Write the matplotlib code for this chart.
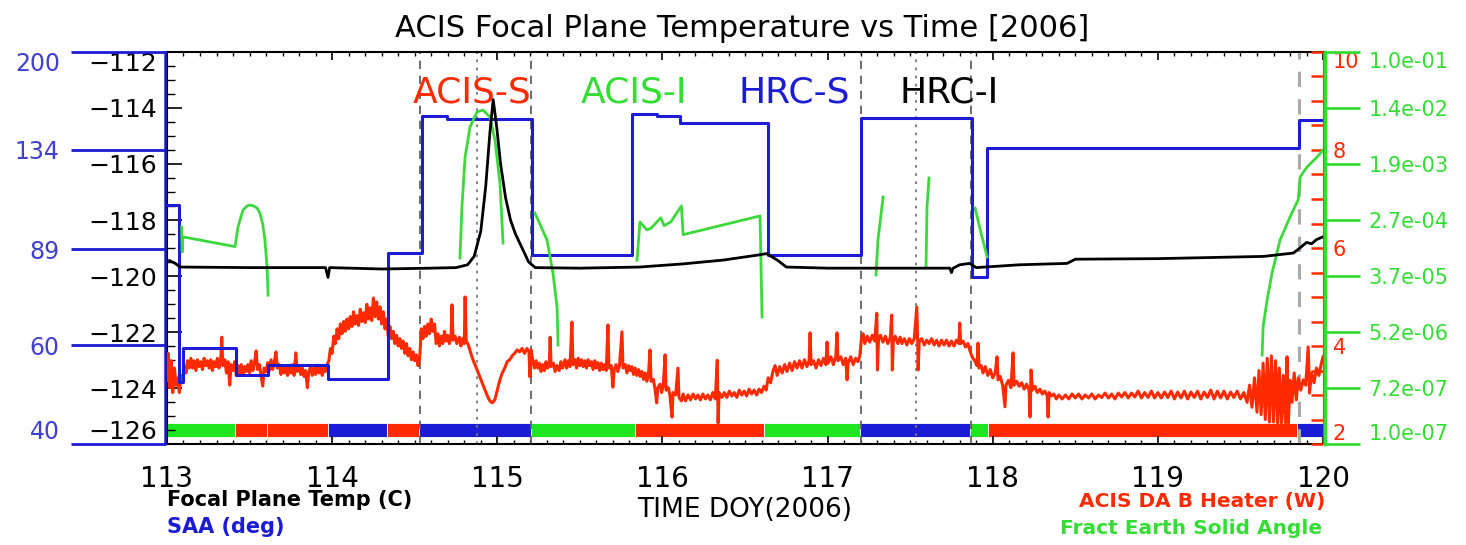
import numpy as np
import matplotlib.pyplot as plt
from matplotlib.ticker import FixedLocator, MultipleLocator, NullLocator

plt.rcParams['font.family'] = 'DejaVu Sans'

RED = '#ff2a00'
BLUE = '#1c1cd6'
GREEN = '#3cd83c'

# --- datos ---
# temperatura del plano focal (C)
temp_day = [113.015, 113.05, 113.08, 113.5, 113.96, 113.975, 113.985, 114.3, 114.6, 114.75,
            114.82, 114.86, 114.9, 114.93, 114.955, 114.975, 114.995, 115.02, 115.05, 115.08,
            115.11, 115.15, 115.19, 115.23, 115.5, 115.86, 116.12, 116.37, 116.58, 116.63,
            116.7, 116.75, 117.0, 117.5, 117.74, 117.75, 117.76, 117.8, 117.86, 117.9,
            118.16, 118.45, 118.5, 119.0, 119.64, 119.82, 119.86, 119.9, 119.93, 119.96, 120.0]
temp_c = [-119.45, -119.55, -119.68, -119.70, -119.70, -120.05, -119.70, -119.75, -119.72, -119.70,
          -119.60, -119.30, -118.40, -116.80, -114.90, -113.70, -114.60, -116.00, -117.20, -118.00,
          -118.50, -119.00, -119.50, -119.70, -119.72, -119.68, -119.57, -119.43, -119.25, -119.20,
          -119.45, -119.68, -119.72, -119.72, -119.72, -119.88, -119.72, -119.60, -119.55, -119.70,
          -119.60, -119.55, -119.40, -119.38, -119.30, -119.18, -119.00, -118.80, -118.85, -118.70, -118.60]

# SAA (deg), escalones
saa_day = [113.000, 113.073, 113.097, 113.418, 113.612, 113.975, 114.338, 114.544, 114.696, 115.210,
           115.816, 115.967, 116.106, 116.639, 117.202, 117.875, 117.966, 119.855, 120.000]
saa_deg = [106.7, 51.6, 59.3, 53.1, 55.3, 52.2, 87.6, 153.8, 151.9, 86.9,
           155.0, 153.8, 149.4, 86.9, 152.6, 79.4, 134.8, 151.3, 151.3]

# ACIS DA B heater (W)
heater = [
    (113.000, 3.30), (113.008, 3.85), (113.015, 3.15), (113.025, 3.70), (113.035, 3.05), (113.045, 3.55),
    (113.055, 3.20), (113.065, 3.35), (113.075, 3.05), (113.085, 3.40), (113.095, 3.25), (113.105, 3.60),
    (113.115, 3.45), (113.125, 3.70), (113.135, 3.55), (113.145, 3.75), (113.155, 3.55), (113.165, 3.70),
    (113.175, 3.50), (113.185, 3.72), (113.195, 3.58), (113.205, 3.68), (113.215, 3.52), (113.225, 3.75),
    (113.235, 3.60), (113.245, 3.70), (113.255, 3.55), (113.265, 3.72), (113.275, 3.50), (113.285, 3.68),
    (113.295, 3.58), (113.305, 3.75), (113.315, 3.55), (113.325, 3.70), (113.332, 4.18), (113.338, 3.60),
    (113.350, 3.72), (113.360, 3.45), (113.370, 3.68), (113.380, 3.20), (113.388, 3.62), (113.400, 3.50),
    (113.410, 3.68), (113.420, 3.40), (113.430, 3.60), (113.440, 3.45), (113.450, 3.62), (113.460, 3.42),
    (113.470, 3.58), (113.480, 3.48), (113.490, 3.62), (113.500, 3.45), (113.510, 3.70), (113.520, 3.50),
    (113.530, 3.66), (113.540, 3.90), (113.548, 3.52), (113.560, 3.62), (113.570, 3.40), (113.580, 3.18),
    (113.588, 3.55), (113.600, 3.48), (113.610, 3.66), (113.620, 3.50), (113.630, 3.72), (113.640, 3.52),
    (113.650, 3.68), (113.660, 3.88), (113.668, 3.55), (113.680, 3.62), (113.690, 3.42), (113.700, 3.58),
    (113.710, 3.45), (113.720, 3.60), (113.730, 3.40), (113.740, 3.55), (113.750, 3.45), (113.760, 3.62),
    (113.770, 3.40), (113.780, 3.86), (113.788, 3.48), (113.800, 3.58), (113.810, 3.42), (113.820, 3.55),
    (113.830, 3.38), (113.840, 3.50), (113.850, 3.15), (113.858, 3.45), (113.870, 3.58), (113.880, 3.40),
    (113.890, 3.55), (113.900, 3.42), (113.910, 3.60), (113.920, 3.45), (113.930, 3.58), (113.940, 3.40),
    (113.950, 3.55), (113.960, 3.48), (113.970, 3.62), (113.980, 3.70), (113.990, 3.95), (114.000, 3.85),
    (114.010, 4.20), (114.020, 4.05), (114.030, 4.35), (114.040, 4.15), (114.050, 4.45), (114.060, 4.25),
    (114.070, 4.50), (114.080, 4.30), (114.090, 4.55), (114.100, 4.35), (114.110, 4.60), (114.120, 4.40),
    (114.130, 4.70), (114.140, 4.45), (114.150, 4.62), (114.160, 4.42), (114.170, 4.75), (114.180, 4.50),
    (114.190, 4.68), (114.200, 4.48), (114.210, 4.85), (114.220, 4.55), (114.230, 4.78), (114.240, 4.52),
    (114.250, 4.98), (114.260, 4.60), (114.270, 4.90), (114.280, 4.55), (114.290, 4.80), (114.300, 4.45),
    (114.310, 4.70), (114.320, 4.35), (114.330, 4.55), (114.340, 4.20), (114.350, 4.40), (114.360, 4.15),
    (114.370, 4.30), (114.380, 4.05), (114.390, 4.22), (114.400, 4.00), (114.410, 4.15), (114.420, 3.95),
    (114.430, 4.10), (114.440, 3.85), (114.450, 4.05), (114.460, 3.80), (114.470, 3.95), (114.480, 3.72),
    (114.490, 3.88), (114.500, 3.70), (114.510, 3.82), (114.520, 3.60), (114.530, 3.75), (114.540, 4.35),
    (114.550, 4.15), (114.560, 4.40), (114.570, 4.20), (114.580, 4.45), (114.590, 4.25), (114.600, 4.55),
    (114.610, 4.30), (114.620, 4.45), (114.630, 4.05), (114.640, 4.25), (114.650, 4.00), (114.660, 4.20),
    (114.670, 4.05), (114.680, 4.30), (114.690, 4.10), (114.700, 4.22), (114.710, 4.05), (114.720, 4.20),
    (114.726, 4.84), (114.732, 4.12), (114.745, 4.20), (114.755, 4.05), (114.770, 4.18), (114.780, 4.00),
    (114.790, 4.15), (114.800, 4.05), (114.805, 5.00), (114.812, 4.10), (114.825, 4.02), (114.840, 3.85),
    (114.855, 3.70), (114.870, 3.58), (114.885, 3.45), (114.900, 3.32), (114.920, 3.15), (114.940, 2.98),
    (114.955, 2.88), (114.970, 2.84), (114.985, 2.90), (115.000, 3.10), (115.015, 3.30), (115.030, 3.45),
    (115.045, 3.55), (115.060, 3.68), (115.075, 3.72), (115.090, 3.80), (115.105, 3.85), (115.120, 3.92),
    (115.135, 3.88), (115.150, 3.95), (115.165, 3.85), (115.180, 3.95), (115.192, 3.88), (115.198, 3.37),
    (115.205, 3.92), (115.215, 3.70), (115.225, 3.55), (115.235, 3.70), (115.245, 3.55), (115.255, 3.65),
    (115.265, 3.48), (115.275, 3.62), (115.285, 3.50), (115.295, 3.68), (115.305, 3.55), (115.315, 3.62),
    (115.320, 4.18), (115.326, 3.58), (115.340, 3.65), (115.350, 3.48), (115.362, 3.60), (115.375, 3.50),
    (115.385, 3.68), (115.395, 3.55), (115.410, 3.72), (115.420, 3.55), (115.430, 3.70), (115.440, 3.58),
    (115.452, 4.49), (115.458, 3.62), (115.470, 3.72), (115.480, 3.55), (115.490, 3.75), (115.500, 3.60),
    (115.510, 3.72), (115.520, 3.58), (115.530, 3.70), (115.540, 3.55), (115.550, 3.72), (115.560, 3.60),
    (115.570, 3.68), (115.580, 3.52), (115.590, 3.70), (115.600, 3.55), (115.610, 3.66), (115.620, 3.50),
    (115.630, 3.65), (115.640, 3.52), (115.650, 3.62), (115.660, 3.50), (115.670, 4.43), (115.676, 3.55),
    (115.690, 3.60), (115.700, 3.16), (115.708, 3.52), (115.720, 3.62), (115.730, 3.48), (115.740, 3.60),
    (115.755, 4.29), (115.761, 3.55), (115.775, 3.62), (115.785, 3.45), (115.795, 3.60), (115.805, 3.50),
    (115.815, 3.58), (115.825, 3.42), (115.835, 3.55), (115.845, 3.40), (115.855, 3.52), (115.865, 3.38),
    (115.875, 3.48), (115.885, 3.32), (115.895, 3.45), (115.905, 3.28), (115.915, 3.40), (115.925, 3.92),
    (115.931, 3.28), (115.945, 3.32), (115.955, 3.12), (115.965, 2.84), (115.972, 3.15), (115.985, 3.22),
    (115.995, 3.05), (116.005, 3.20), (116.016, 3.82), (116.022, 3.10), (116.035, 3.15), (116.045, 3.00),
    (116.058, 2.55), (116.064, 3.05), (116.080, 3.00), (116.094, 3.55), (116.100, 2.95), (116.115, 2.88),
    (116.125, 3.02), (116.140, 2.88), (116.155, 3.00), (116.170, 2.90), (116.185, 3.02), (116.200, 2.92),
    (116.215, 3.00), (116.230, 2.90), (116.245, 3.02), (116.260, 2.92), (116.275, 3.00), (116.290, 2.90),
    (116.305, 3.05), (116.320, 2.92), (116.332, 3.71), (116.337, 2.43), (116.343, 3.05), (116.360, 2.95),
    (116.375, 3.05), (116.390, 2.95), (116.405, 3.08), (116.420, 2.98), (116.435, 3.05), (116.450, 2.95),
    (116.465, 3.10), (116.480, 3.00), (116.495, 3.08), (116.510, 2.98), (116.525, 3.12), (116.540, 3.02),
    (116.555, 3.10), (116.570, 3.00), (116.585, 3.12), (116.600, 3.05), (116.615, 3.18), (116.628, 3.10),
    (116.640, 3.35), (116.655, 3.25), (116.670, 3.50), (116.682, 3.60), (116.695, 3.40), (116.710, 3.58),
    (116.725, 3.45), (116.740, 3.62), (116.754, 3.48), (116.770, 3.65), (116.785, 3.50), (116.800, 3.68),
    (116.815, 3.55), (116.830, 3.70), (116.845, 3.55), (116.860, 3.72), (116.875, 3.58), (116.888, 3.70),
    (116.894, 4.27), (116.900, 3.62), (116.915, 3.70), (116.930, 3.55), (116.945, 3.72), (116.960, 3.60),
    (116.975, 3.75), (116.990, 3.62), (116.997, 4.08), (117.003, 3.65), (117.020, 3.78), (117.035, 3.62),
    (117.050, 3.80), (117.057, 4.27), (117.063, 3.70), (117.080, 3.78), (117.095, 3.62), (117.110, 3.75),
    (117.118, 3.31), (117.124, 3.65), (117.140, 3.78), (117.155, 3.62), (117.170, 3.75), (117.184, 3.68),
    (117.195, 3.80), (117.205, 4.15), (117.215, 4.25), (117.225, 4.05), (117.240, 4.20), (117.255, 4.08),
    (117.270, 4.22), (117.285, 4.10), (117.298, 4.67), (117.302, 3.51), (117.308, 4.12), (117.320, 4.22),
    (117.335, 4.08), (117.350, 4.20), (117.365, 4.05), (117.380, 4.18), (117.388, 4.63), (117.392, 3.51),
    (117.398, 4.10), (117.410, 4.20), (117.425, 4.05), (117.439, 4.18), (117.450, 4.05), (117.465, 4.15),
    (117.480, 4.02), (117.495, 4.15), (117.510, 4.05), (117.525, 4.15), (117.540, 4.80), (117.546, 4.02),
    (117.548, 3.51), (117.555, 4.10), (117.570, 4.15), (117.585, 4.02), (117.600, 4.12), (117.615, 4.05),
    (117.630, 4.15), (117.645, 4.02), (117.660, 4.12), (117.675, 4.00), (117.690, 4.12), (117.705, 4.02),
    (117.720, 4.12), (117.735, 4.00), (117.750, 4.10), (117.765, 4.00), (117.780, 4.12), (117.795, 4.05),
    (117.800, 4.47), (117.806, 4.05), (117.820, 4.10), (117.835, 3.98), (117.850, 4.05), (117.862, 3.90),
    (117.875, 3.78), (117.890, 3.70), (117.905, 3.60), (117.911, 4.06), (117.917, 3.55), (117.930, 3.60),
    (117.941, 3.45), (117.955, 3.58), (117.970, 3.40), (117.985, 3.52), (118.000, 3.35), (118.015, 3.45),
    (118.026, 3.78), (118.032, 3.31), (118.045, 3.38), (118.060, 3.20), (118.074, 2.76), (118.080, 3.20),
    (118.095, 3.30), (118.110, 3.15), (118.123, 3.86), (118.129, 3.20), (118.145, 3.28), (118.160, 3.18),
    (118.175, 3.25), (118.190, 3.12), (118.205, 3.22), (118.220, 3.10), (118.226, 2.55), (118.232, 3.51),
    (118.240, 3.10), (118.255, 3.18), (118.270, 3.05), (118.286, 3.12), (118.300, 3.02), (118.315, 3.08),
    (118.330, 2.98), (118.335, 2.55), (118.341, 3.05), (118.355, 2.98), (118.370, 3.02), (118.385, 2.92),
    (118.400, 3.00), (118.420, 2.92), (118.440, 3.00), (118.460, 2.92), (118.480, 3.02), (118.500, 2.94),
    (118.520, 3.02), (118.540, 2.92), (118.560, 3.00), (118.580, 2.94), (118.600, 3.02), (118.620, 2.92),
    (118.640, 3.00), (118.660, 2.95), (118.680, 3.04), (118.700, 2.94), (118.720, 3.02), (118.740, 2.92),
    (118.760, 3.04), (118.780, 2.96), (118.800, 3.05), (118.820, 2.94), (118.840, 3.04), (118.860, 2.96),
    (118.880, 3.08), (118.900, 2.94), (118.920, 3.05), (118.940, 2.95), (118.960, 3.08), (118.980, 2.94),
    (119.000, 3.05), (119.020, 2.94), (119.040, 3.06), (119.060, 2.95), (119.080, 3.08), (119.100, 2.92),
    (119.120, 3.06), (119.140, 2.94), (119.160, 3.08), (119.180, 2.92), (119.200, 3.06), (119.220, 2.95),
    (119.240, 3.08), (119.260, 2.92), (119.280, 3.06), (119.300, 2.95), (119.320, 3.10), (119.340, 2.92),
    (119.360, 3.08), (119.380, 2.94), (119.400, 3.08), (119.420, 2.92), (119.440, 3.06), (119.460, 2.95),
    (119.480, 3.08), (119.500, 2.92), (119.520, 3.05), (119.540, 2.85), (119.555, 3.20), (119.570, 2.75),
    (119.585, 3.35), (119.600, 2.65), (119.612, 3.50), (119.625, 2.60), (119.637, 3.65), (119.650, 2.50),
    (119.662, 3.75), (119.675, 2.45), (119.687, 3.80), (119.700, 2.45), (119.712, 3.70), (119.725, 2.43),
    (119.735, 3.55), (119.748, 2.43), (119.760, 3.40), (119.772, 2.43), (119.782, 3.78), (119.790, 2.43),
    (119.800, 3.30), (119.812, 2.85), (119.825, 3.45), (119.838, 2.90), (119.850, 3.35), (119.865, 3.10),
    (119.880, 3.31), (119.895, 3.20), (119.910, 3.98), (119.918, 3.04), (119.930, 3.45), (119.945, 3.25),
    (119.960, 3.55), (119.975, 3.40), (119.990, 3.65), (120.000, 3.78),
]
heater_day, heater_w = zip(*heater)

# fraccion del angulo solido de la Tierra (tramos separados por nan)
nan = float('nan')
earth_day = [113.088, 113.092, 113.097, 113.412, 113.430, 113.460, 113.485, 113.503, 113.525, 113.545,
             113.563, 113.580, 113.593, 113.606, 113.612, nan,
             114.774, 114.786, 114.805, 114.835, 114.877, 114.914, 114.956, 114.986, 115.016, 115.035, nan,
             115.228, 115.301, 115.337, 115.362, 115.368, nan,
             115.846, 115.864, 115.905, 115.930, 115.990, 116.010, 116.050, 116.115, 116.125, 116.591, 116.603, nan,
             117.293, 117.305, 117.336, nan,
             117.596, 117.602, 117.614, nan,
             117.893, 117.929, 117.966, nan,
             119.631, 119.637, 119.661, 119.691, 119.740, 119.800, 119.849, 119.861, 119.903, 119.964, 120.000]
earth_frac = [2.09e-4, 8.7e-5, 1.48e-4, 1.05e-4, 2.1e-4, 3.8e-4, 4.4e-4, 4.55e-4, 4.4e-4, 4.1e-4,
              3.4e-4, 2.3e-4, 1.33e-4, 5.1e-5, 1.9e-5, nan,
              7.0e-5, 4.25e-4, 2.47e-3, 7.1e-3, 1.21e-2, 1.29e-2, 1.01e-2, 4.5e-3, 9.9e-4, 1.19e-4, nan,
              3.44e-4, 1.33e-4, 4.15e-5, 1.25e-5, 3.27e-6, nan,
              6.5e-5, 2.5e-4, 1.9e-4, 2.0e-4, 2.9e-4, 2.2e-4, 2.5e-4, 4.4e-4, 1.6e-4, 3.1e-4, 8.8e-6, nan,
              3.86e-5, 1.33e-4, 6.04e-4, nan,
              5.1e-5, 4.25e-4, 1.18e-3, nan,
              4.09e-4, 1.70e-4, 7.3e-5, nan,
              2.30e-6, 6.18e-6, 1.60e-5, 4.14e-5, 1.33e-4, 2.99e-4, 5.43e-4, 1.22e-3, 1.74e-3, 2.47e-3, 3.16e-3]

# barra de instrumento (abajo)
mode_start = [113.0, 113.41, 113.605, 113.975, 114.33, 114.526, 115.204, 115.834, 116.615, 117.196, 117.862, 117.97, 119.843]
mode_end = [113.41, 113.605, 113.975, 114.33, 114.526, 115.204, 115.834, 116.615, 117.196, 117.862, 117.97, 119.843, 120.0]
mode_color = ['#1ee61e', RED, RED, BLUE, RED, BLUE, '#1ee61e', RED, '#1ee61e', BLUE, '#1ee61e', RED, BLUE]

dashed_days = [114.532, 115.204, 117.202, 117.869]
dashed_light = [119.855]
dotted_days = [114.877, 117.535]

instr_names = ['ACIS-S', 'ACIS-I', 'HRC-S', 'HRC-I']
instr_day = [114.847, 115.828, 116.797, 117.735]
instr_color = [RED, '#33dd33', BLUE, 'black']

temp_ticks = [-126, -124, -122, -120, -118, -116, -114, -112]
heater_ticks = [2, 4, 6, 8, 10]
saa_ticks = [40, 60, 89, 134, 200]
earth_labels = ['1.0e-07', '7.2e-07', '5.2e-06', '3.7e-05', '2.7e-04', '1.9e-03', '1.4e-02', '1.0e-01']
earth_ticks = [float(s) for s in earth_labels]

# --- figura ---
fig = plt.figure(figsize=(14.66, 5.45), dpi=100)
ax = fig.add_axes([0.1139, 0.1853, 0.7886, 0.7193])
ax.set_xlim(113, 120)
ax.set_ylim(-126, -112)

ax.broken_barh([(s, e - s) for s, e in zip(mode_start, mode_end)], (-125.75, 0.5),
               facecolors=mode_color, edgecolor='white', linewidth=0.6)
for d in dashed_days:
    ax.axvline(d, color='#555555', ls=(0, (5, 4)), lw=1.2)
for d in dashed_light:
    ax.axvline(d, color='#aaaaaa', ls=(0, (5, 4)), lw=2.2)
for d in dotted_days:
    ax.axvline(d, color='#777777', ls=(0, (1.5, 3)), lw=1.3)

for name, d, c in zip(instr_names, instr_day, instr_color):
    ax.text(d, -113.43, name, color=c, fontsize=26, ha='center', va='center')

ax.xaxis.set_major_locator(MultipleLocator(1))
ax.xaxis.set_minor_locator(MultipleLocator(0.1))
ax.yaxis.set_major_locator(FixedLocator(temp_ticks))
ax.yaxis.set_minor_locator(MultipleLocator(0.5))
ax.tick_params(axis='x', which='both', direction='in', top=True, bottom=True, labelsize=20, pad=15)
ax.tick_params(axis='x', which='major', length=6, width=1.2)
ax.tick_params(axis='x', which='minor', length=2.8, width=1)
ax.tick_params(axis='y', which='both', direction='in', left=True, right=False, labelsize=18, pad=7)
ax.tick_params(axis='y', which='major', length=10.8, width=1.2)
ax.tick_params(axis='y', which='minor', length=5.8, width=1)
ax.spines['right'].set_visible(False)
for s in ['left', 'top', 'bottom']:
    ax.spines[s].set_linewidth(1.5)

# heater (rojo, derecha, ticks hacia dentro)
ax_heat = ax.twinx()
ax_heat.set_ylim(2, 10)
ax_heat.plot(heater_day, heater_w, color=RED, lw=2.2)
ax_heat.yaxis.set_major_locator(FixedLocator(heater_ticks))
ax_heat.yaxis.set_minor_locator(MultipleLocator(0.5))
ax_heat.tick_params(axis='y', which='both', direction='in', length=8.6, width=1.8,
                    colors=RED, labelsize=15, pad=7)
for s in ['left', 'top', 'bottom']:
    ax_heat.spines[s].set_visible(False)
ax_heat.spines['right'].set_color(RED)

# SAA (azul, izquierda, log)
ax_saa = ax.twinx()
ax_saa.set_yscale('log')
ax_saa.set_ylim(40, 200)
ax_saa.plot(saa_day, saa_deg, color=BLUE, lw=2.2, drawstyle='steps-post')
ax_saa.yaxis.tick_left()
ax_saa.yaxis.set_major_locator(FixedLocator(saa_ticks))
ax_saa.yaxis.set_major_formatter(plt.FixedFormatter([str(v) for v in saa_ticks]))
ax_saa.yaxis.set_minor_locator(NullLocator())
ax_saa.tick_params(axis='y', which='major', direction='out', length=67.7, width=2,
                   color=BLUE, labelcolor='#4040d0', labelsize=17, pad=8)
for s in ['right', 'top', 'bottom']:
    ax_saa.spines[s].set_visible(False)
ax_saa.spines['left'].set_color(BLUE)
ax_saa.spines['left'].set_linewidth(1.8)
ax_saa.spines['left'].set_position(('outward', 1.5))

# fraccion angulo solido Tierra (verde, derecha, log)
ax_earth = ax.twinx()
ax_earth.set_yscale('log')
ax_earth.set_ylim(1e-7, 1e-1)
ax_earth.plot(earth_day, earth_frac, color=GREEN, lw=2)
ax_earth.yaxis.set_major_locator(FixedLocator(earth_ticks))
ax_earth.yaxis.set_major_formatter(plt.FixedFormatter(earth_labels))
ax_earth.yaxis.set_minor_locator(NullLocator())
ax_earth.tick_params(axis='y', which='major', direction='out', length=25, width=2,
                     color='#33dd33', labelcolor='#33dd33', labelsize=15, pad=6)
for s in ['left', 'top', 'bottom']:
    ax_earth.spines[s].set_visible(False)
ax_earth.spines['right'].set_color('#33dd33')
ax_earth.spines['right'].set_linewidth(2.5)
ax_earth.spines['right'].set_position(('outward', 1.5))

# temperatura encima de todo
ax_t = ax.twinx()
ax_t.set_ylim(-126, -112)
ax_t.plot(temp_day, temp_c, color='black', lw=2)
ax_t.axis('off')

# etiquetas de los extremos desplazadas hacia dentro (estilo IDL)
for a in [ax, ax_saa, ax_heat, ax_earth]:
    ticks = a.yaxis.get_major_ticks()
    ticks[0].label1.set_va('bottom')
    ticks[0].label2.set_va('bottom')
    ticks[-1].label1.set_va('top')
    ticks[-1].label2.set_va('top')

fig.text(0.506, 0.9486, 'ACIS Focal Plane Temperature vs Time [2006]', fontsize=22, ha='center', va='center')
fig.text(0.508, 0.064, 'TIME DOY(2006)', fontsize=19, ha='center', va='center')
fig.text(0.1139, 0.0826, 'Focal Plane Temp (C)', fontsize=15, fontweight='bold', ha='left', va='center')
fig.text(0.1139, 0.033, 'SAA (deg)', fontsize=15, fontweight='bold', color=BLUE, ha='left', va='center')
fig.text(0.9038, 0.0789, 'ACIS DA B Heater (W)', fontsize=14.5, fontweight='bold', color=RED, ha='right', va='center')
fig.text(0.9018, 0.031, 'Fract Earth Solid Angle', fontsize=14.5, fontweight='bold', color='#33dd33', ha='right', va='center')

fig.savefig('out.png', dpi=100)
